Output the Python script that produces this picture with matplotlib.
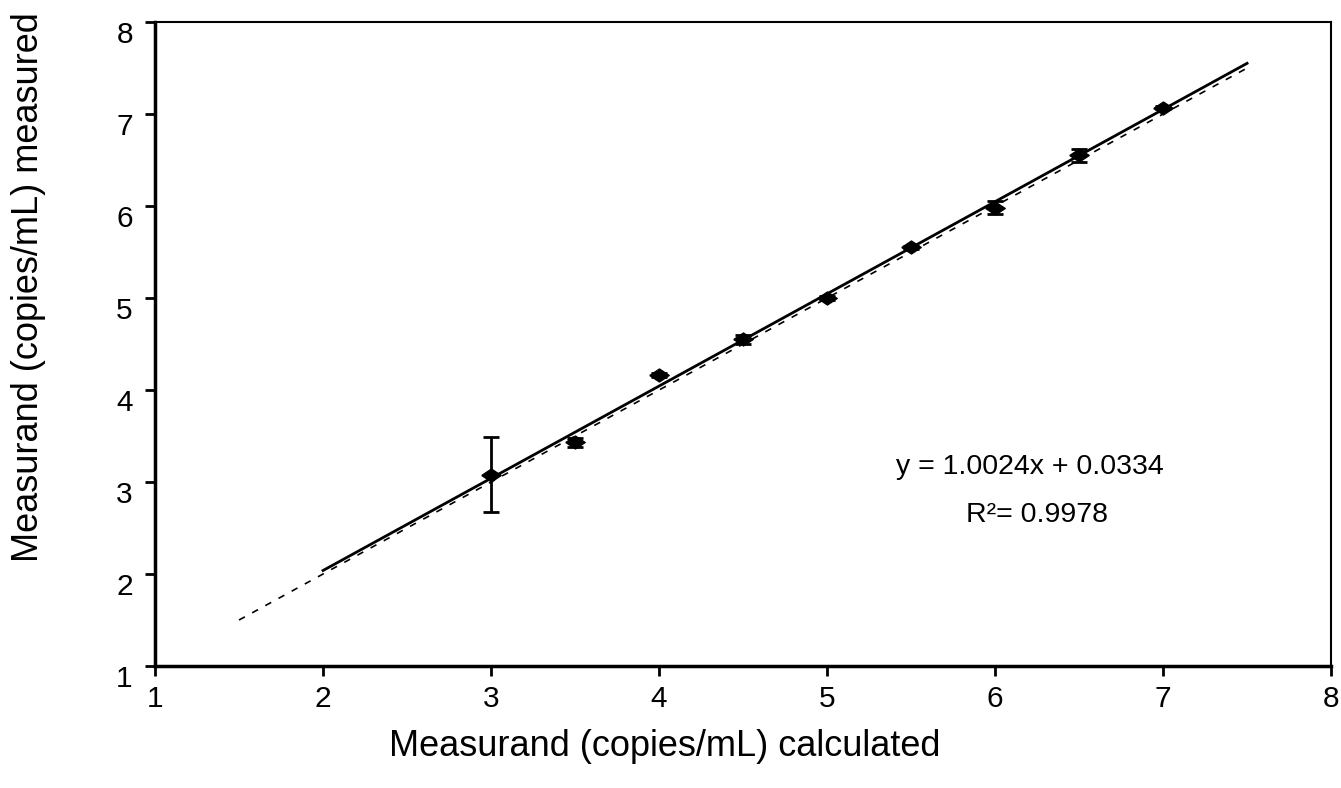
import numpy as np
import matplotlib.pyplot as plt
from matplotlib.transforms import ScaledTranslation

plt.rcParams['font.family'] = ['Liberation Sans', 'DejaVu Sans']

# Data
x_calc = [3.0, 3.5, 4.0, 4.5, 5.0, 5.5, 6.0, 6.5, 7.0]
y_meas = [3.08, 3.43, 4.16, 4.55, 5.00, 5.55, 5.98, 6.55, 7.07]
y_err = [0.41, 0.05, 0.02, 0.05, 0.02, 0.02, 0.07, 0.07, 0.02]

slope = 1.0024
intercept = 0.0334
r2 = 0.9978
fit_x = [2.0, 7.5]
ident_x = [1.5, 7.5]

fig = plt.figure(figsize=(13.41, 7.88), dpi=100)
ax = fig.add_axes([0.1156, 0.1548, 0.877, 0.8172])

# identity line (dashed) and regression line (solid)
ax.plot(ident_x, ident_x, color='black', linestyle=(0, (4, 5)), linewidth=1.2)
fx = np.array(fit_x)
ax.plot(fx, slope * fx + intercept, color='black', linewidth=2)

# slightly flattened diamond, like the original chart
diamond = [(-1.5, 0), (0, 1), (1.5, 0), (0, -1), (-1.5, 0)]
ax.errorbar(x_calc, y_meas, yerr=y_err, fmt='none', ecolor='black',
            elinewidth=2, capsize=6, capthick=2)
ax.plot(x_calc, y_meas, linestyle='none', marker=diamond, markersize=14,
        color='black')

ax.text(6.21, 3.16, f"y = {slope}x + {intercept}", ha='center', va='center', fontsize=20.5)
ax.text(6.25, 2.64, f"R\u00b2= {r2}", ha='center', va='center', fontsize=20.5)

ax.set_xlim(1, 8)
ax.set_ylim(1, 8)
ax.set_xticks(range(1, 9))
ax.set_yticks(range(1, 9))
ax.tick_params(direction='out', length=7, width=2, labelsize=21.5)
ax.tick_params(axis='x', pad=7)
ax.tick_params(axis='y', pad=9)

# y tick labels sit a little below their ticks in the original
shift = ScaledTranslation(0, -10 / 100, fig.dpi_scale_trans)
for lbl in ax.get_yticklabels():
    lbl.set_transform(lbl.get_transform() + shift)

for side in ['left', 'bottom']:
    ax.spines[side].set_linewidth(2.5)
for side in ['top', 'right']:
    ax.spines[side].set_linewidth(1.5)

ax.set_xlabel('Measurand (copies/mL) calculated', fontsize=26)
ax.set_ylabel('Measurand (copies/mL) measured', fontsize=26)
ax.xaxis.set_label_coords(0.433, -0.098)
ax.yaxis.set_label_coords(-0.093, 0.588)

fig.savefig('out.png', dpi=100)
